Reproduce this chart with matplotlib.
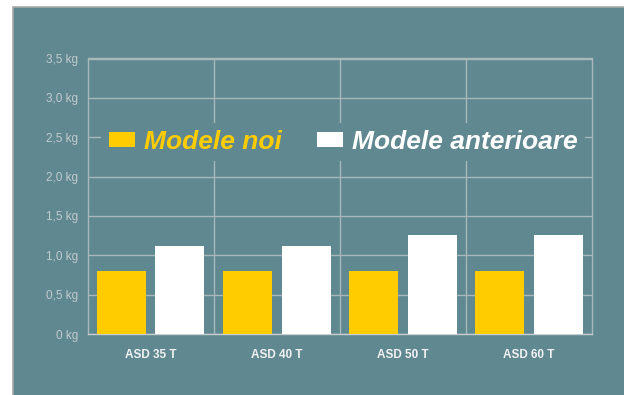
import numpy as np
import matplotlib
matplotlib.use("Agg")
import matplotlib.pyplot as plt
from matplotlib.patches import Rectangle

plt.rcParams['font.family'] = ['Liberation Sans', 'DejaVu Sans']

# Data
categories = ["ASD 35 T", "ASD 40 T", "ASD 50 T", "ASD 60 T"]
modele_noi = [0.80, 0.80, 0.80, 0.80]
modele_anterioare = [1.12, 1.12, 1.26, 1.26]
series_names = ["Modele noi", "Modele anterioare"]
y_ticks = [0, 0.5, 1.0, 1.5, 2.0, 2.5, 3.0, 3.5]
y_labels = ["0 kg", "0,5 kg", "1,0 kg", "1,5 kg", "2,0 kg", "2,5 kg", "3,0 kg", "3,5 kg"]

bg = "#5f8891"
grid_col = "#aab7bb"
yellow = "#ffcc00"

fig = plt.figure(figsize=(6.24, 3.95), dpi=100)
fig.patch.set_facecolor("white")
fig.patches.append(Rectangle((13 / 624, -0.01), 1.0, 388 / 395 + 0.01,
                             transform=fig.transFigure, facecolor=bg,
                             edgecolor="#a9a9a9", linewidth=1.2, zorder=-5))

ax = fig.add_axes([87.5 / 624, 61 / 395, 504.5 / 624, 275.5 / 395])
ax.set_facecolor("none")

x = np.arange(len(categories))
w = 0.389
ax.bar(x - 0.233, modele_noi, width=w, color=yellow, label=series_names[0], zorder=3)
ax.bar(x + 0.233, modele_anterioare, width=w, color="white", label=series_names[1], zorder=3)

ax.set_xlim(-0.5, len(categories) - 0.5)
ax.set_ylim(0, 3.5)
ax.set_yticks(y_ticks)
ax.set_yticklabels(y_labels)
ax.set_xticks(x)
ax.set_xticklabels(categories, fontweight="bold")
ax.set_xticks(np.arange(len(categories) - 1) + 0.5, minor=True)

ax.tick_params(axis="y", length=0, pad=6.5, labelsize=8.5, labelcolor="#c3cbce")
ax.tick_params(axis="x", which="both", length=0, pad=11, labelsize=8.5, labelcolor="#f2f2f2")
ax.grid(axis="y", color=grid_col, linewidth=1, zorder=1)
ax.grid(axis="x", which="minor", color=grid_col, linewidth=1, zorder=1)
for s in ax.spines.values():
    s.set_color(grid_col)
    s.set_linewidth(1)
    s.set_zorder(1)
ax.spines["bottom"].set_color("#c8cdce")

leg = ax.legend(loc="center", bbox_to_anchor=(0.507, 0.697), ncol=2,
                prop={"size": 19, "weight": "bold", "style": "italic"},
                handlelength=1.0, handleheight=0.5, handletextpad=0.34,
                columnspacing=1.33, borderpad=0.27, frameon=True,
                facecolor=bg, edgecolor="none", framealpha=1, fancybox=False)
leg.get_texts()[0].set_color(yellow)
leg.get_texts()[1].set_color("white")

fig.savefig("out.png", dpi=100)
